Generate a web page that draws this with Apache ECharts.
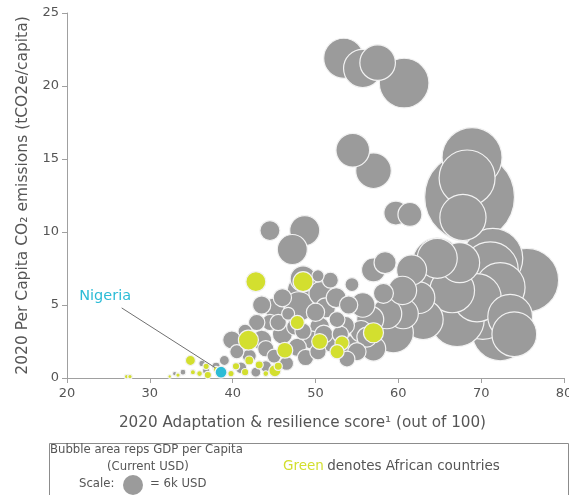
<!DOCTYPE html>
<html><head><meta charset="utf-8">
<script src="https://cdn.jsdelivr.net/npm/echarts@6/dist/echarts.min.js"></script>
<style>html,body{margin:0;padding:0;background:#fff}#c{width:569px;height:495px}</style>
</head><body><div id="c"></div>
<script>
// [score, co2 per capita, GDP per capita (k USD)]
const otherCountries = [
 [53.4,21.9,24],[55.7,21.2,22],[57.5,21.6,19],[60.7,20.2,37],
 [54.5,15.6,17],[57.0,14.2,19],[59.7,11.3,8.6],[61.4,11.2,8.6],
 [68.6,12.4,121],[68.9,15.1,54],[68.3,13.7,47],[67.8,11.0,32],
 [44.5,10.1,6],[48.7,10.1,13.5],[47.2,8.8,13.5],
 [75.5,6.7,61],[71.4,8.2,54],[70.2,4.5,44],[72.3,3.1,47],[67.1,4.0,44],[64.7,7.9,37],[71.1,7.4,47],
 [72.3,6.2,37],[73.5,4.2,30],[64.2,5.8,47],[67.4,7.9,24],[64.7,8.2,24],[61.6,7.4,13.5],[58.4,7.9,7.3],
 [57.0,7.4,8.6],[63.0,4.0,24],[60.6,4.4,13.5],[58.6,4.4,13.5],[59.4,3.1,24],[62.5,5.5,15],[66.5,6.0,30],
 [69.5,5.5,35],[74.0,3.0,30],[60.5,6.0,12],[56.6,4.0,11],[55.7,5.0,9],[54.5,2.1,8.6],[53.8,1.3,3.8],
 [58.2,5.8,6],[57.0,2.0,9],[55.5,3.2,7],
 [49.0,5.9,24],[48.5,6.8,10],[50.3,7.0,2.2],[51.8,6.7,3.8],[54.4,6.4,2.9],[48.0,4.9,13],[50.6,5.8,8],
 [51.2,4.8,6],[52.6,4.0,3.8],[53.6,3.6,5],[52.0,2.5,7],[50.5,3.5,6],[49.5,2.6,5],[47.8,2.1,5],[48.8,1.4,4],
 [50.3,1.8,4],[46.0,3.0,6],[46.7,4.4,2.5],[44.5,3.8,4],[42.9,3.8,4],[43.5,2.6,6],[45.0,1.5,3],[42.0,1.5,3],
 [44.0,0.8,2],[39.9,2.6,5],[40.5,1.8,3],[41.0,0.7,2],[42.8,0.4,1.5],[39.0,1.2,1.5],[38.0,0.8,1],[36.8,0.5,0.8],
 [36.3,1.0,0.6],[34.0,0.4,0.5],[33.0,0.3,0.3],[43.5,5.0,5],[45.0,4.8,6],[46.0,5.5,5],[47.5,3.5,4],[41.5,3.2,3],
 [52.5,5.5,6],[54.0,5.0,5],[51.0,3.0,5],[53.0,3.0,4],[55.0,1.8,5],[56.2,2.8,6],[50.0,4.5,5],[45.5,3.8,4],
 [44.0,2.0,4],[46.5,1.0,3],[48.5,3.2,4]
];
const africanCountries = [
 [42.8,6.6,6],[48.5,6.6,6],[57.0,3.1,6],[53.2,2.4,3],[52.6,1.8,3],[50.5,2.5,3.8],[47.8,3.8,3],[46.3,1.9,3.8],
 [41.9,2.6,6],[45.1,0.5,2.2],[34.9,1.2,1.5],[27.2,0.1,0.3],[27.6,0.1,0.3],[32.4,0.1,0.2],[33.4,0.2,0.3],
 [36.0,0.3,0.5],[37.0,0.2,0.8],[39.8,0.3,0.6],[40.4,0.8,0.8],[41.5,0.4,0.8],[43.2,0.9,1],[44.0,0.3,0.5],
 [45.5,0.8,1],[38.0,0.6,0.5],[35.2,0.4,0.4],[42.0,1.2,1.2],[36.8,0.8,0.6]
];
const nigeria = [[38.6,0.4,2.1]];
const xTicks = [20,30,40,50,60,70,80];
const yTicks = [0,5,10,15,20,25];

const GRAY='#9b9b9b', GREEN='#d3df2f', CYAN='#2cbcd6', TXT='#555555';
const FONT='DejaVu Sans';
const size = v => 20*Math.sqrt(v[2]/6);
const sortDesc = a => a.slice().sort((p,q)=>q[2]-p[2]);

const chart = echarts.init(document.getElementById('c'), null, {renderer:'canvas'});
chart.setOption({
  animation:false,
  textStyle:{fontFamily:FONT},
  grid:{left:67,right:5,top:13,bottom:117,outerBoundsMode:'none',containLabel:false},
  xAxis:{type:'value',min:xTicks[0],max:xTicks[xTicks.length-1],interval:10,
    name:'2020 Adaptation & resilience score¹ (out of 100)',nameLocation:'middle',nameGap:38,
    nameTextStyle:{color:TXT,fontSize:15.2,fontFamily:FONT,padding:[0,26,0,0]},
    axisLine:{lineStyle:{color:'#a0a0a0'}},axisTick:{show:true,length:5,lineStyle:{color:'#a0a0a0'}},
    axisLabel:{color:TXT,fontSize:13,margin:9,fontFamily:FONT},splitLine:{show:false}},
  yAxis:{type:'value',min:yTicks[0],max:yTicks[yTicks.length-1],interval:5,
    name:'2020 Per Capita CO₂ emissions (tCO2e/capita)',nameLocation:'middle',nameGap:36,
    nameTextStyle:{color:TXT,fontSize:15.5,fontFamily:FONT},
    axisLine:{show:true,lineStyle:{color:'#a0a0a0'}},axisTick:{show:true,length:5,lineStyle:{color:'#a0a0a0'}},
    axisLabel:{color:TXT,fontSize:13,margin:8,fontFamily:FONT},splitLine:{show:false}},
  series:[
    {type:'scatter',data:sortDesc(otherCountries),symbolSize:size,
     itemStyle:{color:GRAY,opacity:1,borderColor:'#f2f2f2',borderWidth:1.2}},
    {type:'scatter',data:sortDesc(africanCountries),symbolSize:size,
     itemStyle:{color:GREEN,opacity:1,borderColor:'#f2f2f2',borderWidth:1.2}},
    {type:'scatter',data:nigeria,symbolSize:size,z:5,
     itemStyle:{color:CYAN,opacity:1,borderColor:'#f2f2f2',borderWidth:1.2},
     markLine:{silent:true,symbol:['none','none'],lineStyle:{color:'#707070',width:1,type:'solid'},label:{show:false},
       data:[[{coord:[26.6,4.8]},{coord:[37.9,0.7]}]]},
     markPoint:{symbol:'circle',symbolSize:0,data:[{coord:[24.6,5.6],value:'Nigeria'}],
       label:{show:true,formatter:'Nigeria',color:CYAN,fontSize:14.5,fontFamily:FONT,position:'inside'}}}
  ],
  graphic:[
    {type:'rect',left:47,top:441,shape:{width:519,height:60},style:{fill:'none',stroke:'#8c8c8c',lineWidth:1}},
    {type:'text',left:50,top:444,style:{text:'Bubble area reps GDP per Capita',fill:TXT,font:'11.7px "DejaVu Sans"'}},
    {type:'text',left:107,top:461,style:{text:'(Current USD)',fill:TXT,font:'11.7px "DejaVu Sans"'}},
    {type:'text',left:79,top:478,style:{text:'Scale:',fill:TXT,font:'11.7px "DejaVu Sans"'}},
    {type:'circle',shape:{cx:133,cy:485,r:10},style:{fill:GRAY}},
    {type:'text',left:150,top:478,style:{text:'= 6k USD',fill:TXT,font:'11.7px "DejaVu Sans"'}},
    {type:'text',left:283,top:459,style:{rich:{g:{fill:GREEN,fontSize:13.5,fontFamily:FONT},t:{fill:TXT,fontSize:13.5,fontFamily:FONT}},text:'{g|Green} {t|denotes African countries}'}}
  ]
});
</script></body></html>
